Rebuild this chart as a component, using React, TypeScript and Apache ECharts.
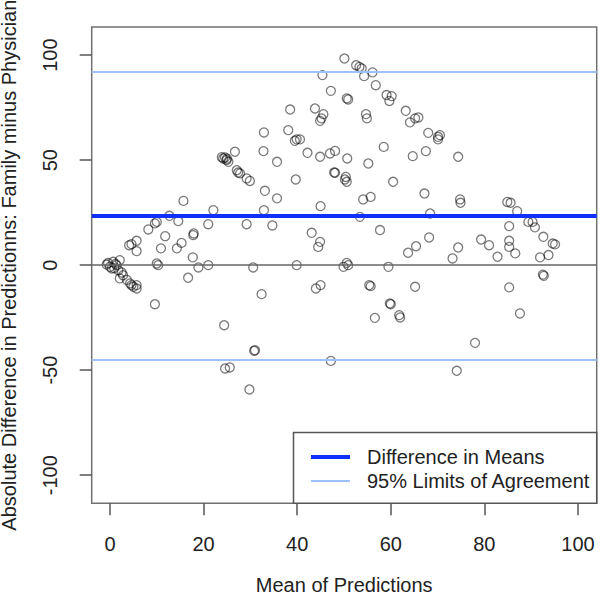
import React, { useEffect, useRef } from "react";
import * as echarts from "echarts";

const meanOfPredictions: number[] = [
  -0.7, 0.0, 0.7, 1.4, 2.1, 0.4, 1.8, 2.8, 2.1, 4.3, 5.0, 5.7, 4.6, 5.7, -0.4, 0.9, 1.2, 3.6, 2.5,
  9.6, 10.0, 10.3, 16.7, 18.9, 21.0, 17.7, 14.3, 15.3, 17.8, 17.9, 10.9, 11.8, 5.7, 5.7, 4.1, 4.6, 8.2, 9.6, 10.0, 12.7, 14.6, 15.7, 21.0, 22.1, 29.2,
  24.2, 24.9, 25.3, 24.6, 23.9, 25.0, 26.7, 27.4, 27.8, 29.2, 29.9, 27.1,
  38.5, 43.8, 45.6, 44.9, 45.2, 32.9, 38.1, 39.9, 39.5, 32.8, 35.7, 42.2, 44.9, 47.0, 48.1, 47.9, 39.7, 33.1, 35.7, 32.9, 45.0, 34.7, 43.1, 44.9, 44.5,
  50.1, 52.6, 53.3, 53.8, 54.3, 56.1, 56.8, 45.4, 47.2, 50.6, 50.9, 59.1, 60.2, 59.7, 54.7, 54.9, 63.2, 64.1, 65.2, 65.9, 68.0, 70.1, 70.5, 70.1, 40.6, 50.7, 55.2, 58.5, 64.7, 67.5, 74.4, 48.1, 50.4, 50.6, 50.2, 60.5, 67.2, 55.7, 54.1,
  53.4, 68.4, 57.7, 65.4, 63.7, 68.2, 50.6, 50.9, 49.9, 59.5,
  74.8, 74.9, 84.9, 85.6, 87.0, 89.4, 90.3, 90.8, 85.3, 79.3, 81.0, 74.4, 73.2, 85.3, 85.3, 86.6, 82.8, 92.6, 94.6, 95.1, 93.7, 91.9, 92.7, 92.5, 85.3,
  55.4, 55.7, 65.2, 59.8, 60.0, 56.6, 61.8, 62.0, 87.6, 78.0, 74.1,
  30.6, 39.9, 32.4, 44.0, 45.0, 24.4, 30.8, 31.0, 24.6, 25.6, 47.2, 29.8,
];

const differenceFamilyMinusPhysician: number[] = [
  0.3, -0.8, 1.6, 0, 2.4, -1.6, -2.4, -4.8, -6.3, -8.7, -10.3, -11.1, -9.5, -9.5, 1.0, -1.4, 0.6, -7.0, -3.5,
  -18.6, 0.8, 0, -6.0, -1.1, 0, 3.7, 8.0, 10.6, 14.3, 15.1, 8.0, 13.8, 6.7, 11.6, 9.5, 10.0, 17.0, 19.9, 20.6, 23.5, 21.0, 30.6, 19.5, 26.2, 19.5,
  50.8, 50.0, 49.2, 51.3, 51.4, 50.7, 54.0, 44.1, 43.7, 41.3, 40.1, 45.2,
  74.1, 74.6, 71.9, 68.7, 69.9, 63.2, 64.3, 59.9, 59.2, 54.3, 49.2, 53.5, 51.6, 53.2, 54.4, 44.1, 40.8, 35.4, 31.8, 26.2, 28.1, 18.9, 15.4, 11.1, 8.7,
  98.4, 95.2, 94.4, 93.7, 90.0, 91.8, 85.7, 90.5, 83.0, 79.4, 78.9, 81.0, 80.5, 78.2, 71.9, 69.9, 73.5, 68.0, 69.9, 70.3, 63.0, 61.1, 61.9, 59.9, 59.9, 50.8, 48.4, 56.3, 51.9, 54.3, 51.6, 44.0, 42.0, 39.7, 40.8, 39.7, 34.1, 32.5, 31.3,
  23.0, 24.6, 16.7, 9.0, 5.9, 13.2, 1.1, 0, -0.8, -0.8,
  31.3, 29.7, 30.1, 29.7, 25.7, 20.6, 20.6, 18.0, 18.6, 12.2, 9.5, 8.4, 3.2, 11.6, 8.7, 5.6, 4.0, 13.5, 10.3, 9.9, 4.8, 3.7, -5.1, -4.5, -10.6,
  -9.5, -10.0, -10.3, -18.2, -18.6, -25.1, -23.8, -24.9, -23.0, -37.0, -50.3,
  -1.1, 0, -13.8, -11.1, -9.5, -28.6, -40.8, -40.5, -49.2, -48.7, -45.6, -59.2,
];

const meanDifference = 23.5;
const upperLimit = 92.0;
const lowerLimit = -45.0;
const xTicks = [0, 20, 40, 60, 80, 100];
const yTicks = [-100, -50, 0, 50, 100];
const legendLabels = ["Difference in Means", "95% Limits of Agreement"];

const FONT = "'Liberation Sans', Arial, sans-serif";
const BLUE = "#1030ff";
const LIGHT = "#9fc0ff";

export default function App() {
  const ref = useRef<HTMLDivElement>(null);
  useEffect(() => {
    if (!ref.current) return;
    const chart = echarts.init(ref.current, null, { renderer: "svg" });
    const points = meanOfPredictions.map((x, i) => [x, differenceFamilyMinusPhysician[i]]);
    chart.setOption({
      animation: false,
      backgroundColor: "#ffffff",
      grid: {
        left: 91.7,
        top: 27,
        right: 3.3,
        bottom: 95.7,
        show: true,
        borderColor: "#707070",
        borderWidth: 1.5,
        containLabel: false,
        outerBoundsMode: "none",
      },
      xAxis: {
        type: "value",
        min: -3.9,
        max: 104,
        name: "Mean of Predictions",
        nameLocation: "middle",
        nameGap: 72,
        nameTextStyle: { fontSize: 20, fontFamily: FONT, color: "#222", lineHeight: 20 },
        axisLine: { show: false, onZero: false },
        splitLine: { show: false },
        axisTick: { show: true, length: 12, lineStyle: { color: "#555", width: 1.5 }, customValues: xTicks },
        axisLabel: { fontSize: 20, fontFamily: FONT, color: "#222", margin: 31, lineHeight: 20, customValues: xTicks },
      },
      yAxis: {
        type: "value",
        min: -113.4,
        max: 113.4,
        name: "Absolute Difference in Predictionns: Family minus Physician",
        nameLocation: "middle",
        nameRotate: 90,
        nameGap: 73,
        nameTextStyle: { fontSize: 20, fontFamily: FONT, color: "#222", lineHeight: 20 },
        axisLine: { show: false, onZero: false },
        splitLine: { show: false },
        axisTick: { show: true, length: 12, lineStyle: { color: "#555", width: 1.5 }, customValues: yTicks },
        axisLabel: { fontSize: 20, fontFamily: FONT, color: "#222", margin: 32, rotate: 90, lineHeight: 20, customValues: yTicks },
      },
      series: [
        {
          type: "scatter",
          data: points,
          symbol: "circle",
          symbolSize: 9,
          itemStyle: { color: "rgba(255,255,255,0)", borderColor: "rgba(0,0,0,0.65)", borderWidth: 1.3 },
          silent: true,
          markLine: {
            silent: true,
            symbol: ["none", "none"],
            label: { show: false },
            data: [
              { yAxis: 0, lineStyle: { color: "#666", width: 1.5, type: "solid" } },
              { yAxis: meanDifference, lineStyle: { color: BLUE, width: 4, type: "solid" } },
              { yAxis: upperLimit, lineStyle: { color: LIGHT, width: 2, type: "solid" } },
              { yAxis: lowerLimit, lineStyle: { color: LIGHT, width: 2, type: "solid" } },
            ],
          },
        },
      ],
      graphic: [
        {
          type: "group",
          z: 100,
          children: [
            {
              type: "rect",
              shape: { x: 293.5, y: 432.5, width: 303.2, height: 70.8 },
              style: { fill: "#ffffff", stroke: "#555", lineWidth: 1.5 },
            },
            {
              type: "line",
              shape: { x1: 311, y1: 457, x2: 350, y2: 457 },
              style: { stroke: BLUE, lineWidth: 4 },
            },
            {
              type: "line",
              shape: { x1: 311, y1: 481, x2: 350, y2: 481 },
              style: { stroke: LIGHT, lineWidth: 2 },
            },
            {
              type: "text",
              x: 367,
              y: 457,
              style: { text: legendLabels[0], fontSize: 20, fontFamily: FONT, fill: "#222", textVerticalAlign: "middle", textAlign: "left" },
            },
            {
              type: "text",
              x: 367,
              y: 481,
              style: { text: legendLabels[1], fontSize: 20, fontFamily: FONT, fill: "#222", textVerticalAlign: "middle", textAlign: "left" },
            },
          ],
        },
      ],
    });
    return () => chart.dispose();
  }, []);
  return (
    <div
      ref={ref}
      style={{ position: "fixed", left: 0, top: 0, width: 600, height: 599, background: "#fff" }}
    />
  );
}
